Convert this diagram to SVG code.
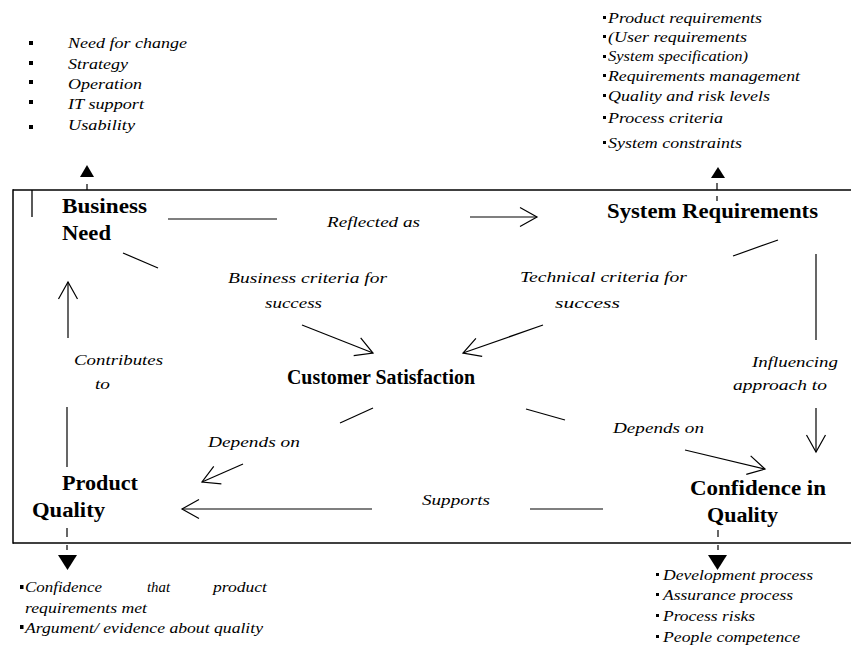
<svg xmlns="http://www.w3.org/2000/svg" width="851" height="646" viewBox="0 0 851 646">
<defs>
<style>
.it{font-family:"Liberation Serif","DejaVu Serif",serif;font-style:italic;font-size:15px;fill:#000}
.sm{font-size:14.5px}
.bd{font-family:"Liberation Serif","DejaVu Serif",serif;font-weight:bold;font-size:20px;fill:#000}
.ln{stroke:#000;stroke-width:1.2;fill:none}
.fr{stroke:#000;stroke-width:1.5}
.ar{marker-end:url(#oa)}
.bl{fill:#000}
</style>
<marker id="oa" markerUnits="userSpaceOnUse" markerWidth="24" markerHeight="24" viewBox="-20 -12 24 24" refX="0" refY="0" orient="auto">
<path d="M-17,-9.5 L0,0 L-17,9.5" fill="none" stroke="#000" stroke-width="1.2"/>
</marker>
</defs>
<rect width="851" height="646" fill="#fff"/>

<g id="frame">
<line class="fr" x1="13" y1="190" x2="851" y2="190"/>
<line class="fr" x1="13" y1="543" x2="851" y2="543"/>
<line class="fr" x1="13" y1="189.25" x2="13" y2="543.75"/>
<line x1="32" y1="190" x2="32" y2="217" stroke="#000" stroke-width="1.3"/>
</g>

<g id="business-need">
<text class="bd" x="62" y="213" textLength="85" lengthAdjust="spacingAndGlyphs">Business</text>
<text class="bd" x="62" y="240" textLength="49" lengthAdjust="spacingAndGlyphs">Need</text>
</g>
<g id="system-requirements">
<text class="bd" x="607" y="218" textLength="211" lengthAdjust="spacingAndGlyphs">System Requirements</text>
</g>
<g id="customer-satisfaction">
<text class="bd" x="287" y="384" textLength="188" lengthAdjust="spacingAndGlyphs">Customer Satisfaction</text>
</g>
<g id="product-quality">
<text class="bd" x="62" y="490" textLength="76" lengthAdjust="spacingAndGlyphs">Product</text>
<text class="bd" x="32" y="517" textLength="73" lengthAdjust="spacingAndGlyphs">Quality</text>
</g>
<g id="confidence-in-quality">
<text class="bd" x="690" y="495" textLength="136" lengthAdjust="spacingAndGlyphs">Confidence in</text>
<text class="bd" x="707" y="522" textLength="71" lengthAdjust="spacingAndGlyphs">Quality</text>
</g>

<g id="business-need-notes">
<path class="bl" d="M80,177 L94,177 L87,165 Z"/>
<line x1="87" y1="184" x2="87" y2="190" stroke="#000" stroke-width="1.2"/>
<rect class="bl" x="29" y="41" width="4" height="4"/>
<rect class="bl" x="29" y="61" width="4" height="4"/>
<rect class="bl" x="29" y="80" width="4" height="4"/>
<rect class="bl" x="29" y="100" width="4" height="4"/>
<rect class="bl" x="29" y="125" width="4" height="4"/>
<text class="it" x="68" y="48" textLength="119" lengthAdjust="spacingAndGlyphs">Need for change</text>
<text class="it" x="68" y="69" textLength="60" lengthAdjust="spacingAndGlyphs">Strategy</text>
<text class="it" x="68" y="89" textLength="74" lengthAdjust="spacingAndGlyphs">Operation</text>
<text class="it" x="68" y="109" textLength="76" lengthAdjust="spacingAndGlyphs">IT support</text>
<text class="it" x="68" y="130" textLength="67" lengthAdjust="spacingAndGlyphs">Usability</text>
</g>

<g id="system-requirements-notes">
<path class="bl" d="M711,178 L725,178 L718,167 Z"/>
<line x1="717" y1="183" x2="717" y2="190" stroke="#000" stroke-width="1.2"/>
<line x1="717" y1="196" x2="717" y2="201" stroke="#000" stroke-width="1.2"/>
<rect class="bl" x="603" y="16" width="3" height="3"/>
<rect class="bl" x="603" y="35" width="3" height="3"/>
<rect class="bl" x="603" y="55" width="3" height="3"/>
<rect class="bl" x="603" y="74" width="3" height="3"/>
<rect class="bl" x="603" y="94" width="3" height="3"/>
<rect class="bl" x="603" y="116" width="3" height="3"/>
<rect class="bl" x="603" y="141" width="3" height="3"/>
<text class="it sm" x="608" y="22.5" textLength="154" lengthAdjust="spacingAndGlyphs">Product requirements</text>
<text class="it sm" x="608" y="41.5" textLength="139" lengthAdjust="spacingAndGlyphs">(User requirements</text>
<text class="it sm" x="608" y="61" textLength="140" lengthAdjust="spacingAndGlyphs">System specification)</text>
<text class="it sm" x="608" y="80.5" textLength="192" lengthAdjust="spacingAndGlyphs">Requirements management</text>
<text class="it sm" x="608" y="100.5" textLength="162" lengthAdjust="spacingAndGlyphs">Quality and risk levels</text>
<text class="it sm" x="608" y="122.5" textLength="115" lengthAdjust="spacingAndGlyphs">Process criteria</text>
<text class="it sm" x="608" y="148" textLength="134" lengthAdjust="spacingAndGlyphs">System constraints</text>
</g>

<g id="product-quality-notes">
<line x1="67" y1="528" x2="67" y2="537" stroke="#000" stroke-width="1.2"/>
<line x1="67" y1="545" x2="67" y2="550" stroke="#000" stroke-width="1.2"/>
<path class="bl" d="M58,555 L77,555 L67.5,570 Z"/>
<rect class="bl" x="20" y="585" width="3.5" height="4"/>
<rect class="bl" x="20" y="625" width="3.5" height="4"/>
<text class="it sm" x="25" y="592" textLength="77" lengthAdjust="spacingAndGlyphs">Confidence</text>
<text class="it sm" x="147" y="592" textLength="23" lengthAdjust="spacingAndGlyphs">that</text>
<text class="it sm" x="213" y="592" textLength="54" lengthAdjust="spacingAndGlyphs">product</text>
<text class="it sm" x="25" y="613" textLength="122" lengthAdjust="spacingAndGlyphs">requirements met</text>
<text class="it sm" x="25" y="633" textLength="238" lengthAdjust="spacingAndGlyphs">Argument/ evidence about quality</text>
</g>

<g id="confidence-notes">
<line x1="718" y1="530" x2="718" y2="537" stroke="#000" stroke-width="1.2"/>
<line x1="718" y1="545" x2="718" y2="550" stroke="#000" stroke-width="1.2"/>
<path class="bl" d="M708,555 L727,555 L717.5,570 Z"/>
<rect class="bl" x="656" y="573" width="3" height="3"/>
<rect class="bl" x="656" y="593" width="3" height="3"/>
<rect class="bl" x="656" y="614" width="3" height="3"/>
<rect class="bl" x="656" y="635" width="3" height="3"/>
<text class="it sm" x="663" y="580" textLength="150" lengthAdjust="spacingAndGlyphs">Development process</text>
<text class="it sm" x="663" y="600" textLength="130" lengthAdjust="spacingAndGlyphs">Assurance process</text>
<text class="it sm" x="663" y="621" textLength="92" lengthAdjust="spacingAndGlyphs">Process risks</text>
<text class="it sm" x="663" y="642" textLength="137" lengthAdjust="spacingAndGlyphs">People competence</text>
</g>

<g id="connectors">
<line class="ln" x1="168" y1="219" x2="277" y2="219"/>
<line class="ln ar" x1="470" y1="217" x2="537" y2="217"/>
<line class="ln" x1="123" y1="253" x2="158" y2="268"/>
<line class="ln ar" x1="302" y1="325" x2="373" y2="353"/>
<line class="ln" x1="733" y1="256" x2="778" y2="240"/>
<line class="ln ar" x1="543" y1="325" x2="463" y2="353"/>
<line class="ln" x1="816" y1="254" x2="816" y2="340"/>
<line class="ln ar" x1="816" y1="408" x2="816" y2="452"/>
<line class="ln ar" x1="68" y1="338" x2="68" y2="282"/>
<line class="ln" x1="67" y1="407" x2="67" y2="467"/>
<line class="ln" x1="340" y1="423" x2="373" y2="408"/>
<line class="ln ar" x1="243" y1="464" x2="202" y2="482"/>
<line class="ln" x1="526" y1="409" x2="565" y2="420"/>
<line class="ln ar" x1="685" y1="450" x2="765" y2="469"/>
<line class="ln ar" x1="372" y1="509" x2="182" y2="509"/>
<line class="ln" x1="530" y1="509" x2="603" y2="509"/>
</g>

<g id="connector-labels">
<text class="it" x="327" y="227" textLength="93" lengthAdjust="spacingAndGlyphs">Reflected as</text>
<text class="it" x="228" y="283" textLength="159" lengthAdjust="spacingAndGlyphs">Business criteria for</text>
<text class="it" x="265" y="308" textLength="57" lengthAdjust="spacingAndGlyphs">success</text>
<text class="it" x="520" y="282" textLength="167" lengthAdjust="spacingAndGlyphs">Technical criteria for</text>
<text class="it" x="555" y="308" textLength="65" lengthAdjust="spacingAndGlyphs">success</text>
<text class="it" x="74" y="365" textLength="89" lengthAdjust="spacingAndGlyphs">Contributes</text>
<text class="it" x="95" y="389" textLength="15" lengthAdjust="spacingAndGlyphs">to</text>
<text class="it" x="752" y="367" textLength="86" lengthAdjust="spacingAndGlyphs">Influencing</text>
<text class="it" x="733" y="390" textLength="94" lengthAdjust="spacingAndGlyphs">approach to</text>
<text class="it" x="208" y="447" textLength="92" lengthAdjust="spacingAndGlyphs">Depends on</text>
<text class="it" x="613" y="433" textLength="91" lengthAdjust="spacingAndGlyphs">Depends on</text>
<text class="it" x="422" y="505" textLength="68" lengthAdjust="spacingAndGlyphs">Supports</text>
</g>
</svg>
